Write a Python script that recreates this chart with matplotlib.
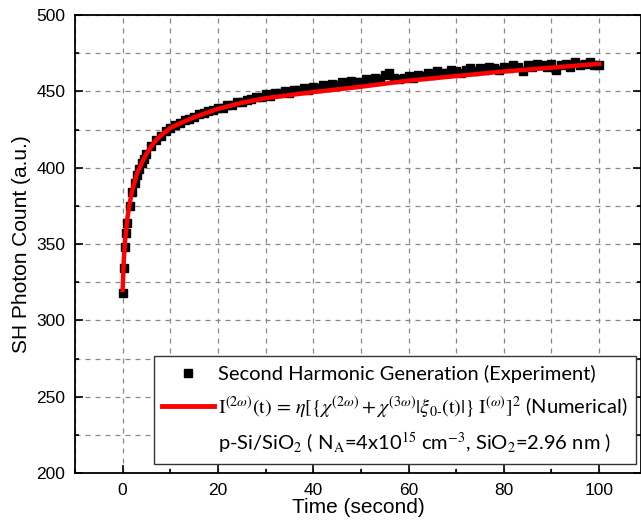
import numpy as np
import matplotlib.pyplot as plt
from matplotlib.lines import Line2D
from matplotlib.ticker import MultipleLocator

t_exp = [0, 0.25, 0.5, 0.75, 1, 1.5, 2, 2.5, 3, 3.5, 4, 4.5, 5,
         6, 7, 8, 9, 10, 11, 12, 13, 14, 15, 16, 17, 18, 19, 20,
         21, 22, 23, 24, 25, 26, 27, 28, 29, 30, 31, 32, 33, 34, 35,
         36, 37, 38, 39, 40, 41, 42, 43, 44, 45, 46, 47, 48, 49, 50,
         51, 52, 53, 54, 55, 56, 57, 58, 59, 60, 61, 62, 63, 64, 65,
         66, 67, 68, 69, 70, 71, 72, 73, 74, 75, 76, 77, 78, 79, 80,
         81, 82, 83, 84, 85, 86, 87, 88, 89, 90, 91, 92, 93, 94, 95,
         96, 97, 98, 99, 100]
shg_exp = [318, 334, 348, 357, 364, 375, 384, 390, 395, 399, 403, 406, 409,
           414, 418, 421, 424, 426, 428, 429, 431, 432, 433, 435, 436, 437, 438, 439,
           439, 441, 441, 443, 443, 444, 445, 446, 446, 448, 447, 449, 449, 450, 449,
           451, 451, 452, 451, 453, 452, 454, 453, 455, 454, 456, 455, 457, 456, 456,
           458, 457, 459, 458, 461, 462, 459, 458, 459, 460, 459, 461, 460, 462, 461,
           463, 462, 462, 464, 463, 462, 464, 465, 463, 465, 464, 466, 465, 464, 466,
           465, 467, 466, 463, 467, 466, 468, 467, 466, 468, 464, 467, 468, 466, 469,
           467, 468, 469, 467, 467]

# numerical model curve
t_fit = [0, 0.25, 0.5, 1, 1.5, 2, 3, 4, 5, 6, 7, 8, 10, 12, 15, 20, 25,
         30, 35, 40, 50, 60, 70, 80, 90, 100]
shg_fit = [320, 340, 352, 367, 377, 385, 396, 403, 409, 414, 418, 421, 426,
           429, 433, 438.5, 442.5, 445.5, 447.5, 449.5, 453, 457, 460, 463,
           465.5, 468]

plt.rcParams['mathtext.fontset'] = 'stix'

fig = plt.figure(figsize=(6.41, 5.26), dpi=100)
ax = fig.add_axes([75 / 641, 53 / 526, 566 / 641, 458 / 526])

ax.plot(t_exp, shg_exp, 's', color='black', markersize=5.5, zorder=3)
ax.plot(t_fit, shg_fit, '-', color='#ff0000', lw=3.2, zorder=4)

ax.set_xlim(-10, 108.8)
ax.set_ylim(200, 500)
ax.xaxis.set_major_locator(MultipleLocator(20))
ax.xaxis.set_minor_locator(MultipleLocator(10))
ax.yaxis.set_major_locator(MultipleLocator(50))
ax.yaxis.set_minor_locator(MultipleLocator(25))
ax.grid(which='both', linestyle=(0, (4, 4)), color='#888888', lw=0.9)
ax.set_axisbelow(True)

ax.tick_params(which='both', direction='in', right=True, labelsize=12.5,
               width=1.2)
ax.tick_params(which='major', length=6)
ax.tick_params(which='minor', length=3)
ax.tick_params(axis='x', pad=7.5)
ax.tick_params(axis='y', pad=7)
for lab in ax.get_xticklabels() + ax.get_yticklabels():
    lab.set_fontfamily('Liberation Sans')
for s in ax.spines.values():
    s.set_linewidth(1.3)

ax.set_xlabel('Time (second)', fontsize=15, family='Liberation Sans', labelpad=0)
ax.set_ylabel('SH Photon Count (a.u.)', fontsize=15, family='Liberation Sans', labelpad=4)

handles = [
    Line2D([], [], marker='s', color='black', ls='none', markersize=6),
    Line2D([], [], color='#ff0000', lw=3.5),
    Line2D([], [], ls='none'),
]
labels = [
    'Second Harmonic Generation (Experiment)',
    r'$\mathrm{I}^{(2\omega)}\mathrm{(t)}\,=\,\eta[\{\chi^{(2\omega)}+\chi^{(3\omega)}|\xi_{0\text{-}}\mathrm{(t)}|\}\;\mathrm{I}^{(\omega)}]^2$ (Numerical)',
    r'p-Si/SiO$_2$ ( N$_\mathrm{A}$=4x10$^{15}$ cm$^{-3}$, SiO$_2$=2.96 nm )',
]
leg = ax.legend(handles, labels, loc='lower right', bbox_to_anchor=(0.991, 0.0197),
                prop={'family': 'Lato', 'size': 14.5}, frameon=True,
                fancybox=False, framealpha=1, edgecolor='#333333',
                handlelength=2.6, handletextpad=0.2, borderpad=0.4,
                labelspacing=0.55, borderaxespad=0)
leg.get_frame().set_linewidth(1.0)
leg.set_zorder(10)

fig.savefig('out.png', dpi=100)
